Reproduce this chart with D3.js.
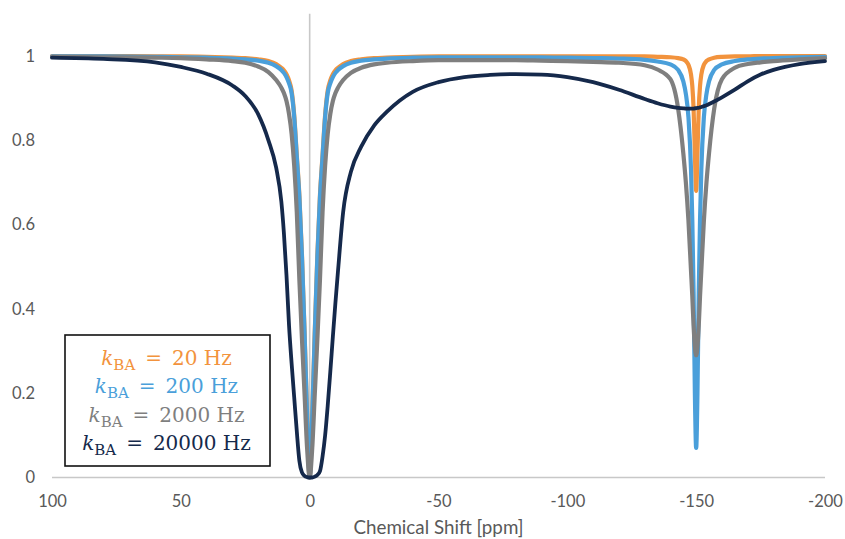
<!DOCTYPE html>
<html>
<head>
<meta charset="utf-8">
<script src="https://cdn.jsdelivr.net/npm/d3@7"></script>
<style>
  html, body { margin: 0; padding: 0; background: #ffffff; }
  svg { display: block; }
</style>
</head>
<body>
<svg id="chart" width="845" height="539"></svg>
<script>
// Saturation offset grid (ppm), shared by all four Z-spectra
const shiftPpm = [100, 80, 60, 50, 40, 30, 25, 20, 16, 13,
  11, 10, 9, 8, 7, 6, 5, 4, 3, 2,
  1, 0, -1, -2, -3, -4, -5, -6, -7, -8,
  -9, -10, -11, -13, -16, -20, -25, -30, -40, -50,
  -60, -70, -80, -90, -100, -110, -120, -130, -135, -140,
  -143, -145, -146, -147, -148, -148.5, -149, -149.5, -150, -150.5,
  -151, -151.5, -152, -153, -154, -155, -157, -160, -165, -170,
  -175, -180, -190, -200];

// Normalised signal for each exchange rate k_BA
const zK20 = [1.000, 1.000, 0.999, 0.999, 0.998, 0.996, 0.995, 0.992, 0.988, 0.981,
  0.972, 0.966, 0.957, 0.942, 0.918, 0.860, 0.765, 0.670, 0.530, 0.350,
  0.150, 0.000, 0.150, 0.350, 0.530, 0.670, 0.765, 0.860, 0.918, 0.942,
  0.957, 0.966, 0.972, 0.981, 0.988, 0.992, 0.995, 0.996, 0.998, 0.999,
  0.999, 0.999, 0.999, 0.999, 0.999, 0.999, 0.999, 0.999, 0.998, 0.997,
  0.995, 0.992, 0.988, 0.979, 0.956, 0.929, 0.875, 0.770, 0.680, 0.770,
  0.875, 0.929, 0.956, 0.979, 0.988, 0.992, 0.996, 0.998, 0.999, 0.999,
  1.000, 1.000, 1.000, 1.000];

const zK200 = [0.999, 0.999, 0.998, 0.997, 0.996, 0.994, 0.992, 0.989, 0.984, 0.976,
  0.967, 0.960, 0.950, 0.935, 0.912, 0.855, 0.760, 0.665, 0.525, 0.345,
  0.145, 0.000, 0.145, 0.345, 0.525, 0.665, 0.760, 0.855, 0.912, 0.935,
  0.950, 0.960, 0.967, 0.976, 0.984, 0.989, 0.992, 0.994, 0.996, 0.997,
  0.997, 0.997, 0.997, 0.997, 0.996, 0.995, 0.994, 0.991, 0.987, 0.980,
  0.967, 0.940, 0.910, 0.855, 0.730, 0.610, 0.440, 0.200, 0.070, 0.200,
  0.440, 0.610, 0.730, 0.855, 0.910, 0.940, 0.967, 0.980, 0.988, 0.992,
  0.994, 0.995, 0.997, 0.998];

const zK2000 = [0.998, 0.997, 0.996, 0.995, 0.992, 0.988, 0.984, 0.975, 0.962, 0.943,
  0.925, 0.912, 0.893, 0.862, 0.815, 0.740, 0.630, 0.470, 0.330, 0.200,
  0.070, 0.000, 0.070, 0.200, 0.330, 0.470, 0.630, 0.740, 0.815, 0.862,
  0.893, 0.912, 0.925, 0.943, 0.960, 0.972, 0.980, 0.984, 0.988, 0.990,
  0.990, 0.990, 0.990, 0.989, 0.988, 0.986, 0.984, 0.978, 0.968, 0.945,
  0.875, 0.770, 0.700, 0.610, 0.490, 0.430, 0.360, 0.310, 0.290, 0.310,
  0.360, 0.430, 0.490, 0.610, 0.700, 0.770, 0.875, 0.945, 0.972, 0.981,
  0.985, 0.988, 0.992, 0.995];

const zK20000 = [0.996, 0.993, 0.985, 0.974, 0.958, 0.930, 0.905, 0.862, 0.800, 0.735,
  0.655, 0.580, 0.480, 0.360, 0.270, 0.190, 0.110, 0.040, 0.012, 0.004,
  0.001, 0.000, 0.000, 0.002, 0.006, 0.015, 0.050, 0.100, 0.170, 0.250,
  0.334, 0.415, 0.490, 0.630, 0.725, 0.785, 0.835, 0.868, 0.915, 0.938,
  0.950, 0.955, 0.957, 0.956, 0.950, 0.938, 0.920, 0.898, 0.888, 0.880,
  0.877, 0.876, 0.875, 0.875, 0.875, 0.875, 0.875, 0.876, 0.876, 0.877,
  0.877, 0.878, 0.879, 0.881, 0.883, 0.886, 0.892, 0.902, 0.920, 0.940,
  0.956, 0.967, 0.981, 0.988];

const rateLabels = ["20", "200", "2000", "20000"];
const rateColors = ["#F2933D", "#4A9FDA", "#7F7F7F", "#15294B"];
const xTickValues = [100, 50, 0, -50, -100, -150, -200];
const yTickValues = [0, 0.2, 0.4, 0.6, 0.8, 1];
const xAxisTitle = "Chemical Shift [ppm]";

const series = [zK20, zK200, zK2000, zK20000].map((vals, i) => ({
  label: rateLabels[i],
  color: rateColors[i],
  points: shiftPpm.map((s, j) => [s, vals[j]])
}));

const svg = d3.select("#chart");
const x = d3.scaleLinear().domain([100, -200]).range([52, 825]);
const y = d3.scaleLinear().domain([0, 1.1]).range([477.5, 13.85]);

const axisColor = "#C8C8C8";
const labelFont = "Lato, 'Open Sans', sans-serif";

// Horizontal axis line at zero and vertical axis line at 0 ppm
svg.append("line")
  .attr("x1", x(100)).attr("x2", x(-200))
  .attr("y1", y(0)).attr("y2", y(0))
  .attr("stroke", axisColor).attr("stroke-width", 1.6);
svg.append("line")
  .attr("x1", x(0)).attr("x2", x(0))
  .attr("y1", y(0)).attr("y2", y(1.1))
  .attr("stroke", axisColor).attr("stroke-width", 1.6);

// Y tick labels, placed at the low side of the plot
const yAxis = svg.append("g")
  .attr("transform", "translate(35,0)")
  .call(d3.axisLeft(y).tickValues(yTickValues).tickSize(0).tickPadding(0)
    .tickFormat(d => String(d)));
yAxis.select(".domain").remove();
yAxis.selectAll("text")
  .attr("font-family", labelFont).attr("font-size", 16.5).attr("fill", "#595959");

// X tick labels
const xAxis = svg.append("g")
  .attr("transform", `translate(0,${y(0)})`)
  .call(d3.axisBottom(x).tickValues(xTickValues).tickSize(0)
    .tickFormat(d => String(d)));
xAxis.select(".domain").remove();
xAxis.selectAll("text")
  .attr("y", 29.5).attr("dy", 0)
  .attr("font-family", labelFont).attr("font-size", 16.5).attr("fill", "#595959");

svg.append("text")
  .attr("x", (x(100) + x(-200)) / 2).attr("y", 534)
  .attr("text-anchor", "middle")
  .attr("font-family", labelFont).attr("font-size", 18.8).attr("fill", "#595959")
  .text(xAxisTitle);

// Z-spectra
const line = d3.line()
  .x(d => x(d[0]))
  .y(d => y(d[1]))
  .curve(d3.curveMonotoneX);

svg.append("g").selectAll("path")
  .data(series)
  .join("path")
  .attr("d", d => line(d.points))
  .attr("fill", "none")
  .attr("stroke", d => d.color)
  .attr("stroke-width", (d, i) => i === 3 ? 3.8 : 4.2)
  .attr("stroke-linejoin", "round")
  .attr("stroke-linecap", "round");

// Legend
const legend = svg.append("g");
legend.append("rect")
  .attr("x", 65).attr("y", 335).attr("width", 205).attr("height", 131)
  .attr("fill", "#ffffff").attr("stroke", "#111111").attr("stroke-width", 1.6);

series.forEach((s, i) => {
  const t = legend.append("text")
    .attr("x", 166.5).attr("y", 365 + i * 28.3)
    .attr("text-anchor", "middle")
    .attr("font-family", "'DejaVu Serif', serif")
    .attr("font-size", 20)
    .attr("fill", s.color);
  t.append("tspan").attr("font-style", "italic").text("k");
  t.append("tspan").attr("font-size", 15).attr("dy", 5).text("BA");
  t.append("tspan").attr("dy", -5).text("\u2002=\u2002" + s.label + " Hz");
});
</script>
</body>
</html>
